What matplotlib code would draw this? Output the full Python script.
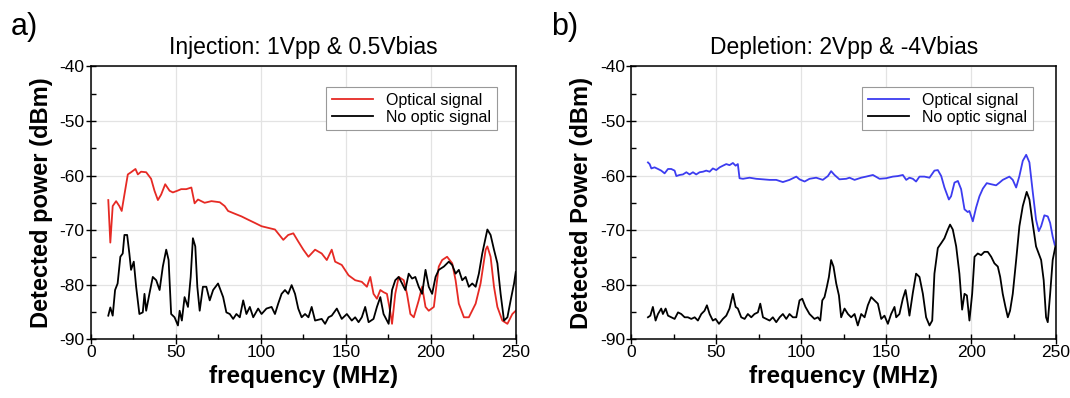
import matplotlib.pyplot as plt
from matplotlib.ticker import MultipleLocator

# panel a) injection, red optical signal
freq_a_opt = [10.2, 11.4, 12.8, 14.8, 16.7, 18.1, 19.7, 21.7, 23.6, 26.2, 27.6, 29.5, 32.5, 35.4,
              37.4, 39.4, 41.3, 43.7, 46.3, 48.2, 50.8, 53.1, 56.1, 59.1, 61.0, 63.0, 66.9, 70.9,
              75.8, 78.7, 80.7, 84.6, 88.6, 92.5, 96.5, 100.4, 104.3, 108.3, 113.2, 116.1, 119.1,
              122.0, 125.0, 128.0, 131.9, 135.8, 138.8, 141.7, 143.7, 147.6, 151.6, 155.5, 159.4,
              162.4, 164.4, 166.3, 168.3, 170.3, 172.2, 174.2, 176.2, 177.2, 179.1, 181.1, 184.1,
              186.0, 188.0, 190.0, 192.9, 194.9, 196.9, 198.8, 201.8, 204.7, 206.7, 209.6, 212.6,
              214.6, 216.5, 219.5, 222.4, 226.4, 229.3, 232.3, 233.3, 235.2, 237.2, 239.2, 242.1,
              245.1, 248.0, 250.0]
pow_a_opt = [-64.5, -72.3, -65.6, -64.7, -65.6, -66.5, -63.5, -59.8, -59.4, -58.8, -59.8, -59.3,
             -59.4, -60.6, -62.8, -64.5, -63.5, -61.6, -62.8, -63.1, -62.8, -62.5, -62.5, -62.2,
             -65.1, -64.4, -65.0, -64.7, -64.9, -65.6, -66.5, -67.0, -67.5, -68.1, -68.7, -69.3,
             -69.6, -69.9, -71.8, -70.9, -70.6, -72.1, -73.6, -74.9, -73.6, -74.3, -75.5, -73.6,
             -75.8, -76.4, -78.3, -79.2, -79.5, -80.4, -78.6, -81.7, -82.6, -81.0, -81.4, -81.7,
             -85.1, -87.2, -81.7, -78.6, -79.2, -81.7, -85.4, -86.0, -82.9, -80.4, -84.1, -84.8,
             -84.1, -76.7, -75.5, -74.9, -76.1, -79.2, -83.5, -86.0, -86.0, -83.5, -79.8, -73.6,
             -73.0, -74.9, -80.4, -84.1, -86.6, -87.2, -85.4, -84.8]

# panel a) no optic signal
freq_a_dark = [10.2, 11.4, 12.8, 14.2, 15.7, 17.3, 18.7, 19.7, 21.3, 22.6, 23.6, 25.2, 26.6, 28.5,
               30.5, 31.5, 32.5, 34.4, 36.4, 38.4, 40.4, 42.3, 44.3, 45.7, 47.2, 49.2, 51.2, 52.2,
               53.5, 55.1, 57.1, 58.7, 60.0, 61.4, 62.6, 64.0, 65.9, 67.9, 69.9, 71.9, 74.8, 77.8,
               79.7, 81.7, 83.7, 85.6, 87.6, 89.6, 91.5, 93.5, 95.5, 98.4, 100.4, 103.3, 106.3,
               108.3, 110.2, 112.2, 114.2, 116.1, 118.1, 120.1, 122.0, 124.0, 126.0, 128.0, 129.9,
               131.9, 135.8, 137.8, 139.8, 141.7, 144.7, 147.6, 150.6, 153.5, 155.5, 157.5, 159.4,
               161.4, 163.4, 166.3, 168.3, 170.3, 172.2, 174.2, 175.2, 176.2, 177.2, 179.1, 181.1,
               183.1, 185.0, 187.0, 189.0, 190.9, 192.9, 194.9, 196.9, 198.8, 200.8, 202.8, 204.7,
               207.7, 210.6, 212.6, 214.6, 216.5, 218.5, 220.5, 222.4, 224.4, 226.4, 228.3, 230.3,
               233.3, 235.2, 237.2, 239.2, 241.1, 243.1, 245.1, 247.0, 249.0, 250.0]
pow_a_dark = [-85.7, -84.2, -85.7, -81.0, -79.8, -74.9, -74.3, -70.9, -70.9, -74.3, -77.3, -75.8,
              -80.4, -85.4, -85.1, -81.7, -84.8, -81.7, -78.6, -79.2, -81.0, -76.7, -73.6, -75.5,
              -85.4, -86.0, -87.5, -84.8, -86.6, -82.3, -84.1, -78.6, -71.5, -73.0, -80.4, -84.8,
              -80.4, -80.4, -82.9, -81.0, -79.8, -82.3, -85.1, -85.4, -86.3, -85.4, -86.0, -82.9,
              -85.4, -84.1, -86.0, -84.4, -85.4, -84.4, -84.1, -85.4, -83.5, -81.7, -81.0, -81.7,
              -80.1, -81.7, -84.4, -86.0, -85.4, -86.0, -84.1, -86.6, -86.3, -87.2, -86.0, -85.7,
              -84.4, -86.3, -85.4, -86.6, -86.0, -86.9, -86.0, -84.1, -86.9, -86.3, -84.1, -82.3,
              -85.4, -86.6, -87.2, -84.1, -81.0, -79.2, -78.6, -79.8, -81.0, -78.0, -78.9, -78.6,
              -80.4, -81.7, -77.3, -80.4, -81.7, -78.6, -77.3, -76.7, -75.8, -76.4, -78.0, -77.3,
              -79.2, -78.6, -80.4, -79.8, -80.4, -78.0, -74.3, -69.9, -70.9, -73.6, -76.1, -81.7,
              -86.6, -86.0, -82.9, -79.8, -77.7]

# panel b) depletion, blue optical signal
freq_b_opt = [9.8, 10.8, 11.8, 13.7, 15.7, 17.6, 19.6, 21.6, 23.5, 25.5, 26.5, 28.4, 30.4, 32.4,
              34.3, 36.3, 38.2, 40.2, 42.2, 44.1, 46.1, 48.0, 50.0, 52.0, 53.9, 55.9, 57.8, 59.8,
              61.4, 62.7, 63.7, 65.7, 69.6, 73.5, 77.5, 81.4, 85.3, 89.2, 93.1, 97.1, 99.0, 102.0,
              104.9, 108.8, 112.7, 115.7, 117.6, 119.6, 122.5, 126.5, 128.4, 131.4, 135.3, 138.2,
              142.2, 146.1, 150.0, 153.9, 156.9, 159.8, 161.8, 163.7, 165.7, 167.6, 169.6, 172.5,
              175.5, 178.4, 180.4, 182.4, 184.3, 186.9, 188.2, 190.2, 192.2, 194.1, 196.1, 198.0,
              199.0, 201.0, 202.9, 204.9, 206.9, 209.2, 211.8, 214.7, 216.7, 218.6, 222.5, 224.5,
              226.5, 228.4, 230.4, 232.4, 234.3, 236.3, 238.2, 239.8, 241.2, 243.1, 245.1, 246.5,
              248.0, 249.2]
pow_b_opt = [-57.6, -57.9, -58.7, -58.5, -58.8, -59.1, -59.6, -58.8, -58.8, -59.1, -60.1, -59.9,
             -59.8, -59.4, -59.8, -59.4, -59.8, -59.4, -59.3, -59.1, -59.3, -58.7, -59.0, -58.5,
             -58.2, -57.9, -58.1, -57.7, -58.2, -57.9, -60.5, -60.6, -60.4, -60.6, -60.7, -60.8,
             -60.8, -61.2, -60.8, -60.2, -60.7, -61.1, -60.6, -60.4, -60.8, -60.1, -59.2, -59.9,
             -60.7, -60.6, -60.4, -60.8, -60.4, -60.2, -59.9, -60.6, -60.5, -60.2, -60.1, -59.9,
             -60.8, -60.4, -60.6, -61.1, -60.2, -60.2, -60.4, -59.1, -59.0, -60.1, -62.2, -64.4,
             -63.8, -61.3, -61.0, -62.5, -66.2, -66.7, -66.5, -68.4, -65.9, -63.8, -62.4, -61.4,
             -61.6, -61.8, -61.3, -60.8, -60.2, -60.8, -62.2, -60.1, -57.3, -56.2, -57.6, -63.1,
             -68.1, -70.2, -69.3, -67.3, -67.5, -68.7, -71.2, -72.7]

# panel b) no optic signal
freq_b_dark = [9.8, 11.2, 12.7, 14.3, 15.7, 17.6, 18.6, 20.2, 21.6, 23.5, 25.5, 27.5, 29.4, 31.4,
               33.3, 35.3, 37.3, 39.2, 41.2, 43.1, 44.5, 46.1, 48.0, 49.6, 51.6, 53.9, 55.9, 57.8,
               59.8, 61.4, 62.7, 64.7, 66.7, 68.6, 70.6, 72.5, 74.5, 75.9, 77.5, 79.4, 81.4, 83.3,
               85.3, 87.3, 89.2, 91.2, 93.1, 95.1, 97.1, 99.0, 100.6, 102.5, 104.9, 107.8, 109.8,
               111.2, 112.4, 113.7, 115.1, 116.3, 117.6, 119.0, 120.6, 122.2, 123.5, 125.5, 127.5,
               129.4, 131.4, 133.3, 135.3, 137.3, 139.2, 141.2, 143.1, 145.1, 147.1, 149.0, 151.0,
               152.9, 154.9, 155.9, 157.8, 159.8, 161.4, 162.7, 163.7, 165.7, 167.6, 169.6, 171.6,
               173.5, 175.5, 177.1, 178.4, 180.4, 182.4, 184.3, 186.3, 187.6, 189.2, 191.2, 193.1,
               194.7, 196.1, 197.5, 199.0, 200.6, 202.0, 203.9, 205.9, 207.8, 209.8, 211.8, 213.7,
               215.7, 217.1, 218.6, 220.2, 221.6, 222.9, 224.5, 226.5, 228.4, 230.4, 232.7, 234.3,
               235.9, 238.2, 241.2, 242.7, 244.1, 245.1, 246.5, 248.0, 249.6]
pow_b_dark = [-86.0, -85.7, -84.1, -86.6, -85.4, -84.4, -85.4, -84.4, -85.7, -86.0, -86.3, -85.1,
              -85.4, -86.0, -86.0, -86.3, -86.0, -86.6, -85.4, -84.8, -83.8, -85.4, -86.6, -86.3,
              -87.2, -86.3, -85.7, -84.4, -81.7, -84.1, -84.4, -86.0, -86.3, -85.4, -86.0, -85.4,
              -85.1, -83.5, -86.0, -86.3, -86.6, -86.0, -86.9, -86.0, -85.4, -86.3, -85.4, -86.0,
              -86.0, -82.9, -82.6, -84.1, -85.4, -86.3, -86.0, -86.6, -82.9, -82.3, -80.4, -78.6,
              -75.5, -76.7, -79.8, -82.0, -86.0, -84.4, -85.4, -86.0, -85.4, -87.5, -85.4, -86.0,
              -83.8, -82.3, -82.9, -83.5, -86.3, -85.7, -87.2, -85.4, -84.1, -86.0, -85.4, -82.6,
              -81.0, -83.5, -85.7, -81.5, -78.0, -78.6, -81.7, -86.0, -87.5, -86.6, -78.0, -73.3,
              -72.4, -71.5, -69.9, -69.0, -69.9, -73.0, -78.0, -84.6, -81.7, -82.0, -86.6, -81.7,
              -74.9, -74.3, -74.6, -74.0, -74.0, -74.9, -76.1, -76.7, -78.6, -81.7, -84.1, -86.0,
              -84.8, -81.7, -75.5, -69.3, -65.6, -63.0, -64.4, -68.1, -73.0, -75.5, -79.2, -86.0,
              -86.9, -81.7, -75.5, -73.0]

panels = [
    ("a)", "Injection: 1Vpp & 0.5Vbias", "Detected power (dBm)",
     freq_a_opt, pow_a_opt, "#e62a24", freq_a_dark, pow_a_dark, 0.085, (0.955, 0.925)),
    ("b)", "Depletion: 2Vpp & -4Vbias", "Detected Power (dBm)",
     freq_b_opt, pow_b_opt, "#3c3cf0", freq_b_dark, pow_b_dark, 0.590, (0.945, 0.925)),
]

plt.rcParams['font.family'] = ['Liberation Sans', 'DejaVu Sans']
plt.rcParams['axes.unicode_minus'] = False

fig = plt.figure(figsize=(10.7, 3.98), dpi=100)

for tag, title, ylab, f1, p1, col, f2, p2, left, legpos in panels:
    ax = fig.add_axes([left, 0.148, 0.397, 0.685])
    ax.plot(f1, p1, color=col, lw=1.3, label="Optical signal")
    ax.plot(f2, p2, color="black", lw=1.3, label="No optic signal")
    ax.set_xlim(0, 250)
    ax.set_ylim(-90, -40)
    ax.xaxis.set_major_locator(MultipleLocator(50))
    ax.xaxis.set_minor_locator(MultipleLocator(25))
    ax.yaxis.set_major_locator(MultipleLocator(10))
    ax.yaxis.set_minor_locator(MultipleLocator(5))
    ax.grid(True, which="major", color="#e3e3e3", lw=0.9)
    ax.set_axisbelow(True)
    ax.tick_params(which="major", direction="inout", length=7, width=1.0,
                   labelsize=12.5, pad=1)
    ax.tick_params(which="minor", direction="in", length=3.5, width=1.0)
    for sp in ax.spines.values():
        sp.set_linewidth(1.1)
    ax.set_title(title, fontsize=16.5, pad=9)
    ax.set_xlabel("frequency (MHz)", fontsize=17.5, fontweight="bold", labelpad=3)
    ax.set_ylabel(ylab, fontsize=17, fontweight="bold", labelpad=5)
    leg = ax.legend(loc="upper right", bbox_to_anchor=legpos, fontsize=11.5,
                    fancybox=False, framealpha=1, edgecolor="#999999",
                    handlelength=2.6, borderpad=0.35, labelspacing=0.15,
                    borderaxespad=0)
    leg.get_frame().set_linewidth(0.8)
    fig.text(left - 0.075, 0.97, tag, fontsize=22, va="top", ha="left")

fig.savefig("out.png", dpi=100)
